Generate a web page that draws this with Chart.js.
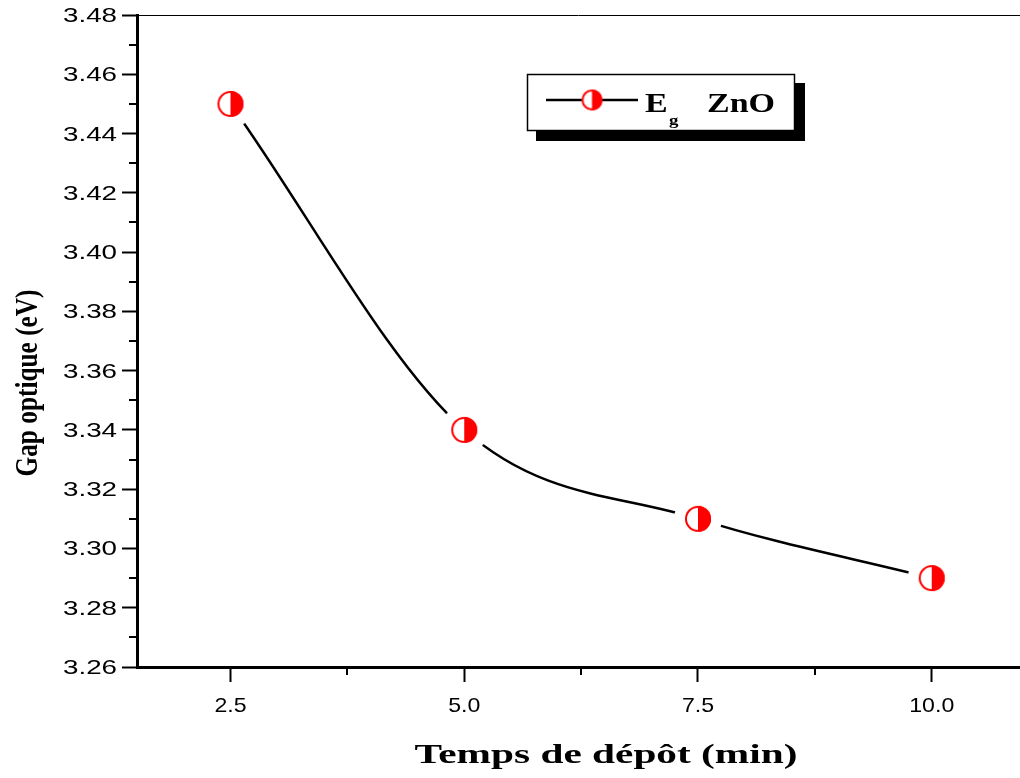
<!DOCTYPE html>
<html>
<head>
<meta charset="utf-8">
<title>Gap optique ZnO</title>
<script src="https://cdn.jsdelivr.net/npm/chart.js@4.4.0/dist/chart.umd.min.js"></script>
<style>
    html, body { margin: 0; padding: 0; background: #fff; overflow: hidden; }
    canvas { display: block; }
</style>
</head>
<body>
<canvas id="gap-chart" width="1020" height="778"></canvas>
<script>
// deposition time (min) vs optical gap (eV)
const depositTimes = [2.5, 5.0, 7.5, 10.0]
const gapValues = [3.45, 3.34, 3.31, 3.29]

const xTicks = [2.5, 5.0, 7.5, 10.0]
const xMinorTicks = [3.75, 6.25, 8.75]
const yTicks = [3.26, 3.28, 3.30, 3.32, 3.34, 3.36, 3.38, 3.40, 3.42, 3.44, 3.46, 3.48]
const yMinorTicks = [3.27, 3.29, 3.31, 3.33, 3.35, 3.37, 3.39, 3.41, 3.43, 3.45, 3.47]

const serifBold = '"Liberation Serif", "Times New Roman", serif'
const sans = '"Liberation Sans", Arial, sans-serif'

// half filled circle, optionally with a white ring that cuts the line around it
const makeMarker = function (r, halo) {
    const outer = Math.max(r, halo) + 2
    const c = document.createElement('canvas')
    c.width = outer * 2
    c.height = outer * 2
    const g = c.getContext('2d')
    const m = outer
    if (halo) {
        g.fillStyle = '#fff'
        g.beginPath()
        g.arc(m, m, halo, 0, 2 * Math.PI)
        g.fill()
    }
    g.fillStyle = '#fff'
    g.beginPath()
    g.arc(m, m, r, 0, 2 * Math.PI)
    g.fill()
    g.fillStyle = '#ff0000'
    g.beginPath()
    g.moveTo(m, m - r)
    g.arc(m, m, r, -Math.PI / 2, Math.PI / 2)
    g.closePath()
    g.fill()
    g.strokeStyle = '#ff0000'
    g.lineWidth = 2
    g.beginPath()
    g.arc(m, m, r - 1, 0, 2 * Math.PI)
    g.stroke()
    return c
}

const pointMarker = makeMarker(13, 24)
const legendMarker = makeMarker(10.5, 0)

// text squeezed or stretched along its baseline
const stretchText = function (ctx, text, font, x, y, factor, angle, align) {
    ctx.save()
    ctx.font = font
    ctx.translate(x, y)
    ctx.rotate(angle)
    ctx.scale(factor, 1)
    ctx.textAlign = align
    ctx.textBaseline = 'alphabetic'
    ctx.fillStyle = '#000'
    ctx.fillText(text, 0, 0)
    ctx.restore()
}

const widthFactor = function (ctx, text, font, length) {
    ctx.save()
    ctx.font = font
    const w = ctx.measureText(text).width
    ctx.restore()
    return length / w
}

const decorations = {
    id: 'decorations',
    afterDraw(chart) {
        const ctx = chart.ctx
        const area = chart.chartArea
        const xs = chart.scales.x
        const ys = chart.scales.y

        ctx.save()
        // thin top frame
        ctx.strokeStyle = '#000'
        ctx.lineWidth = 1
        ctx.beginPath()
        ctx.moveTo(area.left, area.top + 0.5)
        ctx.lineTo(area.right, area.top + 0.5)
        ctx.stroke()

        // minor ticks
        ctx.lineWidth = 2
        ctx.beginPath()
        xMinorTicks.forEach(v => {
            const px = Math.round(xs.getPixelForValue(v))
            ctx.moveTo(px, area.bottom)
            ctx.lineTo(px, area.bottom + 8)
        })
        yMinorTicks.forEach(v => {
            const py = Math.round(ys.getPixelForValue(v))
            ctx.moveTo(area.left, py)
            ctx.lineTo(area.left - 8, py)
        })
        ctx.stroke()
        ctx.restore()

        // tick labels, drawn wide
        const yFont = '20px ' + sans
        const yFactor = widthFactor(ctx, '3.46', yFont, 54)
        yTicks.forEach(v => {
            stretchText(ctx, v.toFixed(2), yFont, area.left - 20, ys.getPixelForValue(v) + 7, yFactor, 0, 'right')
        })
        const xFont = '21px ' + sans
        const xFactor = widthFactor(ctx, '10.0', xFont, 45)
        xTicks.forEach(v => {
            stretchText(ctx, v.toFixed(1), xFont, xs.getPixelForValue(v), area.bottom + 45, xFactor, 0, 'center')
        })

        // legend box with drop shadow
        ctx.save()
        ctx.fillStyle = '#000'
        ctx.fillRect(536, 83, 269, 58)
        ctx.fillStyle = '#fff'
        ctx.fillRect(527, 74, 268, 57)
        ctx.strokeStyle = '#000'
        ctx.lineWidth = 1.5
        ctx.strokeRect(527.5, 74.5, 267, 56)
        ctx.lineWidth = 2.5
        ctx.beginPath()
        ctx.moveTo(546, 100)
        ctx.lineTo(638, 100)
        ctx.stroke()
        ctx.drawImage(legendMarker, 592 - legendMarker.width / 2, 100 - legendMarker.height / 2)
        ctx.restore()

        const legFont = 'bold 27px ' + serifBold
        const legFactor = widthFactor(ctx, 'ZnO', legFont, 68)
        stretchText(ctx, 'E', legFont, 645, 112, legFactor, 0, 'left')
        stretchText(ctx, 'ZnO', legFont, 707, 112, legFactor, 0, 'left')
        stretchText(ctx, 'g', 'bold 15px ' + serifBold, 669, 125, legFactor, 0, 'left')

        // axis titles
        const xtFont = 'bold 27px ' + serifBold
        const ytFont = 'bold 31px ' + serifBold
        stretchText(ctx, 'Temps de dépôt (min)', xtFont, 606, 763, widthFactor(ctx, 'Temps de dépôt (min)', xtFont, 383), 0, 'center')
        stretchText(ctx, 'Gap optique (eV)', ytFont, 37, 383, widthFactor(ctx, 'Gap optique (eV)', ytFont, 187), -Math.PI / 2, 'center')
    }
}

const ctx = document.getElementById('gap-chart').getContext('2d')
const gapChart = new Chart(ctx, {
    type: 'line',
    data: {
        datasets: [{
            label: 'Eg ZnO',
            data: depositTimes.map((t, i) => ({x: t, y: gapValues[i]})),
            borderColor: '#000',
            borderWidth: 2.5,
            cubicInterpolationMode: 'monotone',
            pointStyle: pointMarker,
            pointRadius: 13,
            pointHoverRadius: 13,
            clip: false
        }]
    },
    options: {
        responsive: false,
        animation: false,
        events: [],
        layout: {
            autoPadding: false,
            padding: {top: 15, right: 0, left: 0, bottom: 0}
        },
        plugins: {
            legend: {display: false},
            tooltip: {enabled: false}
        },
        scales: {
            x: {
                type: 'linear',
                min: 1.5,
                max: 10.944,
                afterBuildTicks: s => { s.ticks = xTicks.map(v => ({value: v})) },
                afterFit: s => {
                    s.height = 111
                    s.paddingLeft = 0
                    s.paddingRight = 0
                },
                grid: {
                    drawOnChartArea: false,
                    color: '#000',
                    tickLength: 15,
                    tickWidth: 2
                },
                border: {color: '#000', width: 3},
                ticks: {display: false}
            },
            y: {
                min: 3.26,
                max: 3.48,
                afterBuildTicks: s => { s.ticks = yTicks.map(v => ({value: v})) },
                afterFit: s => {
                    s.width = 137
                    s.paddingTop = 0
                    s.paddingBottom = 0
                },
                grid: {
                    drawOnChartArea: false,
                    color: '#000',
                    tickLength: 15,
                    tickWidth: 2
                },
                border: {color: '#000', width: 3},
                ticks: {display: false}
            }
        }
    },
    plugins: [decorations]
})
</script>
</body>
</html>
